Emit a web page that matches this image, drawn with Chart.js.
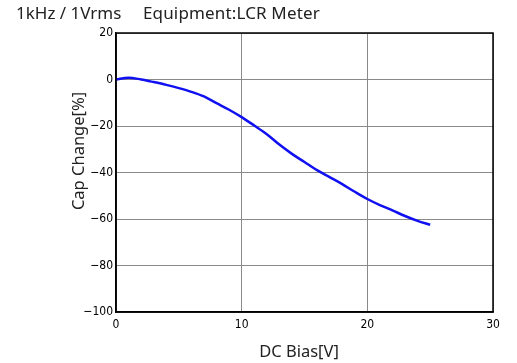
<!DOCTYPE html>
<html>
<head>
<meta charset="utf-8">
<script src="https://cdn.jsdelivr.net/npm/chart.js@4.4.1/dist/chart.umd.min.js"></script>
<style>
  html, body { margin: 0; padding: 0; background: #fff; }
  #wrap { position: relative; width: 517px; height: 363px; }
  .head {
    position: absolute; top: 1px;
    font-family: "Noto Sans", sans-serif; color: #222;
    white-space: pre; line-height: 24px;
  }
  #headLeft { left: 16px; font-size: 17px; }
  #headRight { left: 143px; font-size: 17px; letter-spacing: 0.15px; }
</style>
</head>
<body>
<div id="wrap">
  <div class="head" id="headLeft">1kHz / 1Vrms</div>
  <div class="head" id="headRight">Equipment:LCR Meter</div>
  <canvas id="capChart" width="517" height="363"></canvas>
</div>
<script>
// DC bias voltage [V] and capacitance change [%]
const biasVolts = [0, 1, 2, 3, 4, 5, 6, 7, 8, 9, 10, 11, 12, 13, 14, 15, 16, 17, 18, 19, 20, 21, 22, 23, 24, 25];
const capChange = [0, 0.8, 0, -1.1, -2.3, -3.7, -5.3, -7.3, -10.2, -13, -16.2, -19.8, -23.5, -28, -32, -35.5, -39, -42, -45, -48.3, -51.4, -54, -56.3, -58.7, -60.8, -62.5];

const xTicks = [0, 10, 20, 30];
const yTicks = [-100, -80, -60, -40, -20, 0, 20];

const xTitle = "DC Bias[V]";
const yTitle = "Cap Change[%]";

const tickFont = { family: "'Liberation Sans Narrow', 'DejaVu Sans Condensed', sans-serif", size: 12 };
const axisTitleFont = "16.5px 'Noto Sans', sans-serif";

const points = biasVolts.map((v, i) => ({ x: v, y: capChange[i] }));

const ctx = document.getElementById("capChart").getContext("2d");
const capChart = new Chart(ctx, {
    type: "line",
    data: {
        datasets: [{
            data: points,
            borderColor: "#1010f0",
            borderWidth: 2.5,
            pointRadius: 0,
            cubicInterpolationMode: "monotone",
            fill: false
        }]
    },
    options: {
        responsive: false,
        animation: false,
        layout: { padding: { left: 65, right: 24, top: 33, bottom: 3 } },
        plugins: { legend: { display: false }, tooltip: { enabled: false } },
        scales: {
            x: {
                type: "linear",
                min: 0, max: 30,
                afterBuildTicks: axis => { axis.ticks = xTicks.map(v => ({ value: v })); },
                afterFit: axis => { axis.height = 48; },
                grid: { color: "#8a8a8a", lineWidth: 1, drawTicks: false },
                border: { color: "#000", width: 1.5 },
                ticks: { color: "#000", font: tickFont, padding: 6, maxRotation: 0 }
            },
            y: {
                min: -100, max: 20,
                afterBuildTicks: axis => { axis.ticks = yTicks.map(v => ({ value: v })); },
                afterFit: axis => { axis.width = 51; },
                grid: { color: "#8a8a8a", lineWidth: 1, drawTicks: false },
                border: { color: "#000", width: 1.5 },
                ticks: {
                    color: "#000", font: tickFont, padding: 3,
                    callback: v => String(v).replace("-", "\u2212")
                }
            }
        }
    },
    plugins: [{
        // plot frame on all sides + axis titles
        id: "frame",
        afterDraw(chart) {
            const a = chart.chartArea;
            const c = chart.ctx;
            c.save();
            c.strokeStyle = "#000";
            c.lineWidth = 1.5;
            c.strokeRect(a.left, a.top, a.right - a.left, a.bottom - a.top);

            c.fillStyle = "#222";
            c.font = axisTitleFont;
            c.textAlign = "center";
            c.textBaseline = "middle";
            c.fillText(xTitle, 299, 352);
            c.translate(79, 151);
            c.rotate(-Math.PI / 2);
            c.fillText(yTitle, 0, 0);
            c.restore();
        }
    }]
});
</script>
</body>
</html>
